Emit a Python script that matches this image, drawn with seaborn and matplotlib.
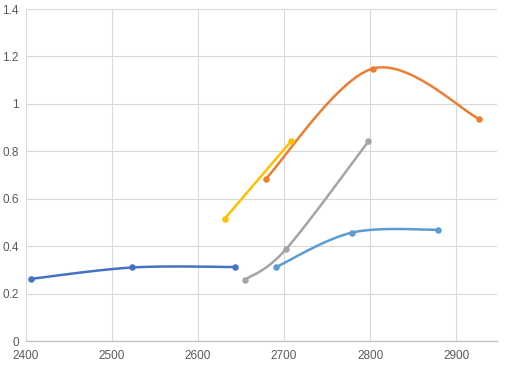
import numpy as np
import pandas as pd
import matplotlib
matplotlib.use("Agg")
import matplotlib.pyplot as plt
import seaborn as sns

# Series values (x, y)
s1_x = [2406, 2524, 2643]
s1_y = [0.263, 0.311, 0.313]
s2_x = [2679, 2803, 2926]
s2_y = [0.685, 1.149, 0.938]
s3_x = [2655, 2702, 2798]
s3_y = [0.26, 0.387, 0.842]
s4_x = [2631, 2708]
s4_y = [0.516, 0.842]
s5_x = [2691, 2779, 2879]
s5_y = [0.313, 0.458, 0.47]

colors = ["#4472C4", "#ED7D31", "#A5A5A5", "#FFC000", "#5B9BD5"]
xticks = [2400, 2500, 2600, 2700, 2800, 2900]
yticks = [0, 0.2, 0.4, 0.6, 0.8, 1.0, 1.2, 1.4]
ytick_labels = ["0", "0.2", "0.4", "0.6", "0.8", "1", "1.2", "1.4"]

# pixel scale used for Excel-like smoothing
SX, SY = 0.86, 237.0


def smooth(xs, ys, n=40):
    # Catmull-Rom style bezier, computed in screen-like units
    p = np.column_stack([np.array(xs) * SX, np.array(ys) * SY])
    if len(p) < 3:
        return list(xs), list(ys)
    pts = np.vstack([p[0], p, p[-1]])
    out = []
    for i in range(1, len(pts) - 2):
        p0, p1, p2, p3 = pts[i - 1], pts[i], pts[i + 1], pts[i + 2]
        c1 = p1 + (p2 - p0) / 6
        c2 = p2 - (p3 - p1) / 6
        t = np.linspace(0, 1, n)[:, None]
        seg = ((1 - t) ** 3) * p1 + 3 * ((1 - t) ** 2) * t * c1 + 3 * (1 - t) * t ** 2 * c2 + t ** 3 * p2
        out.append(seg if i == 1 else seg[1:])
    out = np.vstack(out)
    return out[:, 0] / SX, out[:, 1] / SY


sns.set_style("white")
plt.rcParams["font.family"] = ["Liberation Sans", "DejaVu Sans"]

fig = plt.figure(figsize=(5.16, 3.67), dpi=100)
ax = fig.add_axes([25.7 / 516, 1 - 341.3 / 367, (496.7 - 25.7) / 516, (341.3 - 9) / 367])

series = [(s1_x, s1_y), (s2_x, s2_y), (s3_x, s3_y), (s4_x, s4_y), (s5_x, s5_y)]
for (xs, ys), c in zip(series, colors):
    sx, sy = smooth(xs, ys)
    df = pd.DataFrame({"x": sx, "y": sy})
    sns.lineplot(data=df, x="x", y="y", sort=False, estimator=None, color=c, lw=1.8, ax=ax)
    sns.scatterplot(x=xs, y=ys, color=c, s=22, edgecolor=c, linewidth=0, ax=ax, zorder=3)

ax.set_xlim(2400, 2947)
ax.set_ylim(0, 1.4)
ax.set_xticks(xticks)
ax.set_yticks(yticks)
ax.set_yticklabels(ytick_labels)
ax.grid(True, color="#D9D9D9", lw=0.8)
ax.set_axisbelow(True)
for side in ["left", "right", "top"]:
    ax.spines[side].set_visible(False)
ax.spines["bottom"].set_color("#BFBFBF")
ax.spines["bottom"].set_linewidth(0.9)
ax.tick_params(axis="both", length=0, labelsize=8.5, colors="#595959")
ax.tick_params(axis="x", pad=6)
ax.tick_params(axis="y", pad=5)
ax.set_xlabel("")
ax.set_ylabel("")

fig.savefig("out.png", dpi=100)
